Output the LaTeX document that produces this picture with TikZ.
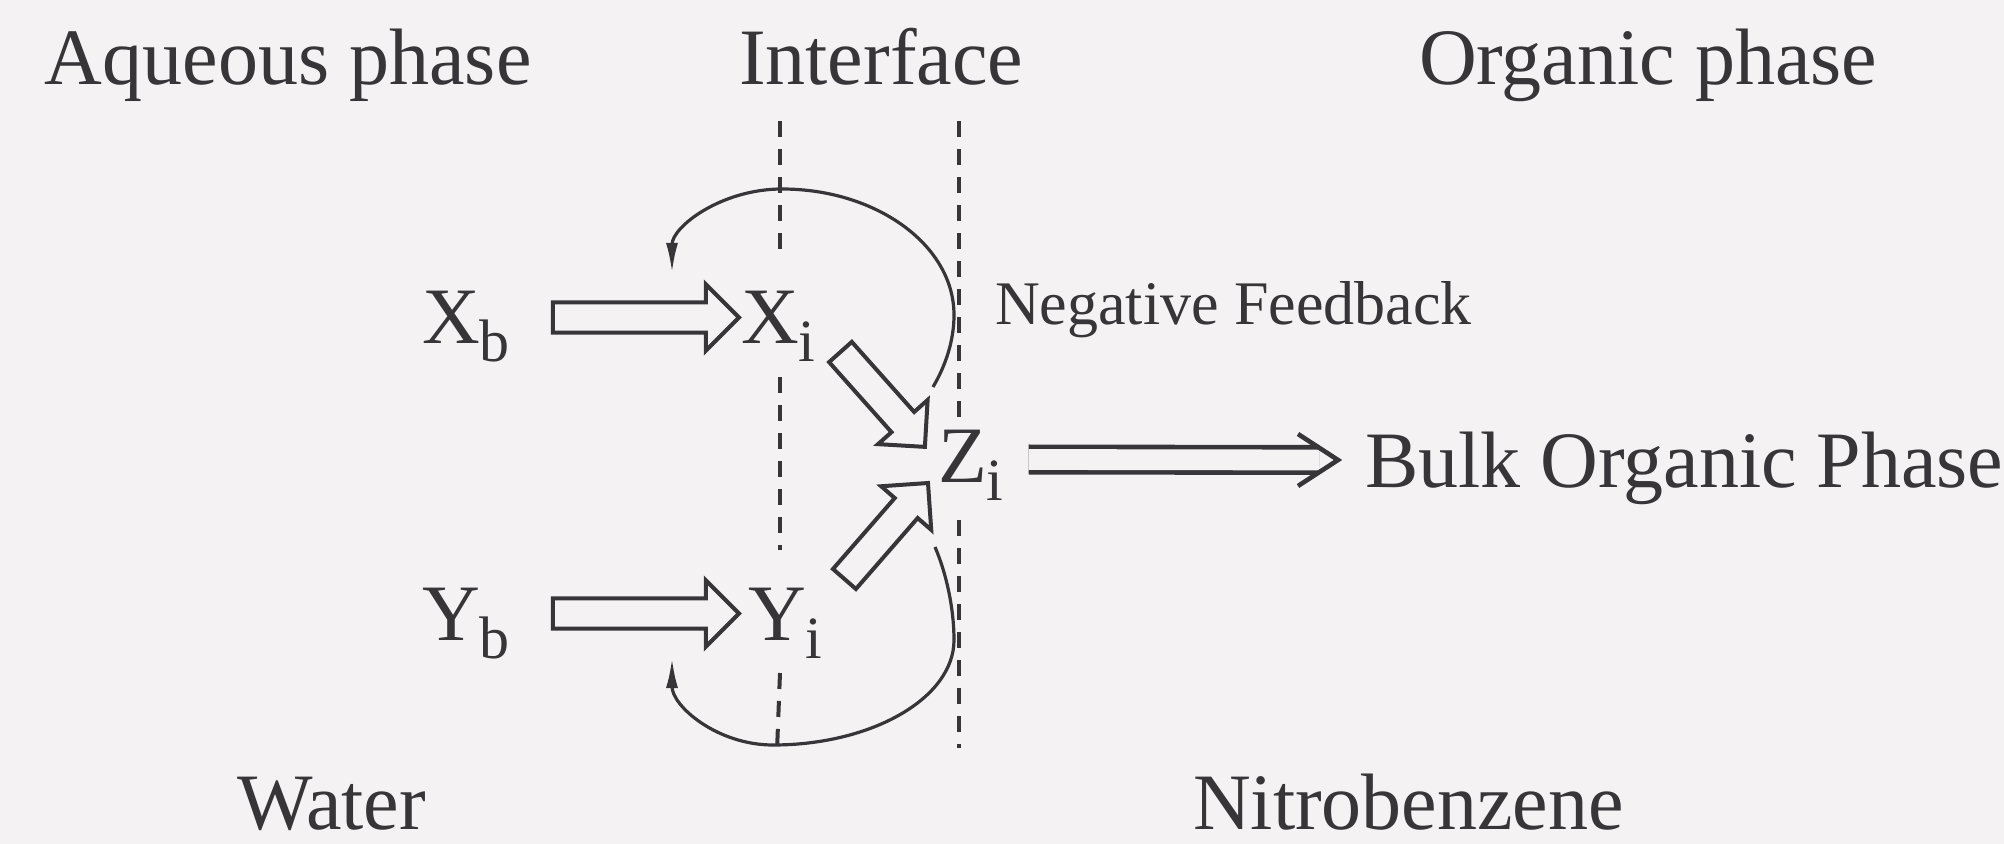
\documentclass[tikz,border=0pt]{standalone}
\usepackage{fontspec}
\setmainfont{Liberation Serif}
\usetikzlibrary{shapes.arrows,arrows.meta,calc}
\definecolor{bgc}{RGB}{244,242,243}
\definecolor{ink}{RGB}{55,53,55}
\newcommand\sbs[1]{\raisebox{-9pt}{\fontsize{30pt}{30pt}\selectfont #1}}
\newcommand\fatarrow[2]{%
  \path let \p1=#1, \p2=#2, \n1={atan2(\y2-\y1,\x2-\x1)}, \n2={veclen(\x2-\x1,\y2-\y1)} in
    node[fatarr, minimum height=\n2, rotate=\n1, anchor=tail] at (\p1) {};}
\tikzset{
  big/.style={inner sep=0pt, outer sep=0pt, text=ink, font=\fontsize{40pt}{48pt}\selectfont, anchor=base west},
  small/.style={inner sep=0pt, outer sep=0pt, text=ink, font=\fontsize{31pt}{36pt}\selectfont, anchor=base west},
  dsh/.style={draw=ink, line width=2pt, dash pattern=on 8pt off 6pt},
  fatarr/.style={single arrow, draw=ink, line width=2pt, inner xsep=0pt, inner ysep=6.6pt,
    single arrow head extend=9pt, single arrow tip angle=90, minimum width=0pt, outer sep=0pt},
  fb/.style={draw=ink, line width=1.6pt, -{Latex[length=15pt,width=6pt]}},
  dbl/.style={draw=ink, line width=2.3pt, double=bgc, double distance=10.4pt},
  chev/.style={draw=ink, line width=2.3pt, line join=miter}
}
\begin{document}
\begin{tikzpicture}[x=0.5pt, y=-0.5pt]
\fill[bgc] (0,0) rectangle (2004,844);
\useasboundingbox (0,0) rectangle (2004,844);

% headers and footers
\node[big] (aq) at (45,85) {Aqueous phase};
\node[big] (intf) at (739,85) {Interface};
\node[big] (org) at (1419,85) {Organic phase};
\node[big] (water) at (237,829) {Water};
\node[big] (nitro) at (1193,829) {Nitrobenzene};

% species
\node[big] (Xb) at (422,344) {X\sbs{b}};
\node[big] (Xi) at (741,344) {X\sbs{i}};
\node[big] (Yb) at (422,640) {Y\sbs{b}};
\node[big] (Yi) at (748,640) {Y\sbs{i}};
\node[big] (Zi) at (938,483) {Z\sbs{i}};
\node[big] (bulk) at (1365,488) {Bulk Organic Phase};
\node[small] (nf) at (995,325) {Negative Feedback};

% dashed interface lines
\coordinate (Lt) at (780,121);
\coordinate (Lb) at (777,751);
\coordinate (Rt) at (959,121);
\coordinate (Rb) at (959,748);
\coordinate (gx1) at ([shift={(0,-88)}]Xi.base);
\coordinate (gx2) at ([shift={(0,33)}]Xi.base);
\coordinate (gy1) at ([shift={(0,-90)}]Yi.base);
\coordinate (gy2) at ([shift={(0,33)}]Yi.base);
\coordinate (gz1) at ([shift={(0,-56)}]Zi.base);
\coordinate (gz2) at ([shift={(0,37)}]Zi.base);
\draw[dsh] (Lt) -- (Lt |- gx1);
\draw[dsh] (Lt |- gx2) -- (Lt |- gy1);
\draw[dsh] (Lt |- gy2) -- (Lb);
\draw[dsh] (Rt) -- (Rt |- gz1);
\draw[dsh] (Rt |- gz2) -- (Rb);

% hollow arrows
\fatarrow{([shift={(43,-26.5)}]Xb.base east)}{([shift={(-2,-26.5)}]Xi.base west)}
\fatarrow{([shift={(43,-26.5)}]Yb.base east)}{([shift={(-9,-26.5)}]Yi.base west)}
\fatarrow{([shift={(25,8)}]Xi.base east)}{([shift={(-13,-36)}]Zi.base west)}
\fatarrow{([shift={(22,-61)}]Yi.base east)}{([shift={(-10,0)}]Zi.base west)}

% double arrow to bulk phase
\coordinate (ds) at ([shift={(25,-23.5)}]Zi.base east);
\coordinate (dt) at ([shift={(-27,-28)}]bulk.base west);
\draw[dbl] (ds) -- ([shift={(-19,0)}]dt);
\draw[chev] ([shift={(-40,-26)}]dt) -- (dt) -- ([shift={(-40,26)}]dt);

% feedback curves
\coordinate (us) at ([shift={(-5,-96)}]Zi.base west);
\coordinate (ue) at ([shift={(-69,-71)}]Xi.base west);
\draw[fb] (us) .. controls (946,365) and (954,340) .. (954,315)
  .. controls (954,245) and (876,189) .. (782,189)
  .. controls (721,189) and (672,227) .. (ue);
\coordinate (ls) at ([shift={(-3,64)}]Zi.base west);
\coordinate (le) at ([shift={(-76,18)}]Yi.base west);
\draw[fb] (ls) .. controls (947,575) and (954,610) .. (954,640)
  .. controls (954,698) and (872,745) .. (773,745)
  .. controls (717,745) and (672,706) .. (le);
\end{tikzpicture}
\end{document}
